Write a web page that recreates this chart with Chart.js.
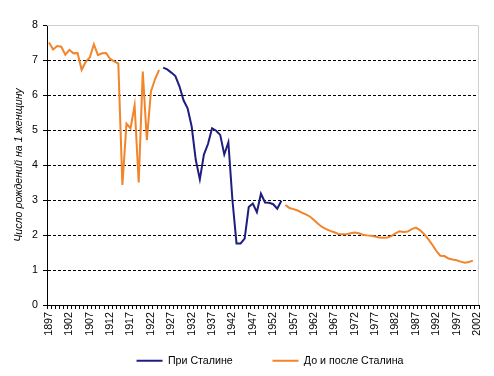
<!DOCTYPE html>
<html>
<head>
<meta charset="utf-8">
<script src="https://cdn.jsdelivr.net/npm/chart.js@4"></script>
<style>
  body { margin: 0; background: #fff; }
  canvas { display: block; }
</style>
</head>
<body>
<canvas id="tfr" width="494" height="376"></canvas>
<script>
// годы по оси X
const firstYear = 1897;
const lastYear = 2002;
const years = Array.from({length: lastYear - firstYear + 1}, (_, i) => firstYear + i);

// до Сталина, 1897 - 1924
const beforeYears = [1897, 1924];
const beforeValues = [7.5, 7.3, 7.4, 7.38, 7.15, 7.29, 7.19, 7.2, 6.72, 6.95, 7.07, 7.45, 7.14, 7.19, 7.2, 7.03, 6.96, 6.9,
    3.43, 5.18, 5.05, 5.7, 3.5, 6.67, 4.71, 6.1, 6.45, 6.72];

// при Сталине, 1925 - 1954
const stalinYears = [1925, 1954];
const stalinValues = [6.78, 6.73, 6.64, 6.54, 6.25, 5.85, 5.62, 5.1, 4.15, 3.59, 4.3, 4.6, 5.05, 4.98, 4.86, 4.3, 4.65,
    3.0, 1.76, 1.76, 1.9, 2.8, 2.9, 2.65, 3.18, 2.93, 2.92, 2.88, 2.75, 2.98];

// после Сталина, 1955 - 2001
const afterYears = [1955, 2001];
const afterValues = [2.86, 2.77, 2.74, 2.70, 2.64, 2.59, 2.53, 2.43, 2.32, 2.23, 2.17, 2.12, 2.08, 2.03, 2.02, 2.02,
    2.05, 2.07, 2.05, 2.01, 1.99, 1.98, 1.96, 1.93, 1.92, 1.93, 1.97, 2.05, 2.11, 2.09, 2.1, 2.17, 2.21, 2.14, 2.03,
    1.89, 1.73, 1.55, 1.41, 1.40, 1.33, 1.30, 1.28, 1.24, 1.21, 1.23, 1.27];

const yTicks = [0, 1, 2, 3, 4, 5, 6, 7, 8];

function pick(range, values, y) {
    return (y >= range[0] && y <= range[1]) ? values[y - range[0]] : null;
}

const stalinData = years.map(y => pick(stalinYears, stalinValues, y));
const otherData = years.map(y => {
    const a = pick(beforeYears, beforeValues, y);
    return a !== null ? a : pick(afterYears, afterValues, y);
});

const FONT = { family: "'Liberation Sans', Arial, sans-serif", size: 10.67 };

// серая рамка сверху и справа, сдвиг легенды вправо
const plotFrame = {
    id: 'plotFrame',
    afterLayout(chart) {
        chart.legend.left += 7;
        chart.legend.right += 7;
    },
    beforeDatasetsDraw(chart) {
        const { ctx, chartArea: a } = chart;
        ctx.save();
        ctx.strokeStyle = '#d0d0d0';
        ctx.lineWidth = 1;
        ctx.beginPath();
        ctx.moveTo(a.left, a.top + 0.5);
        ctx.lineTo(a.right - 0.5, a.top + 0.5);
        ctx.lineTo(a.right - 0.5, a.bottom);
        ctx.stroke();
        ctx.restore();
    }
};

const ctx = document.getElementById('tfr').getContext('2d');
const chart = new Chart(ctx, {
    type: 'line',
    data: {
        labels: years,
        datasets: [{
            label: 'При Сталине',
            data: stalinData,
            borderColor: '#1e1e82',
            backgroundColor: '#1e1e82',
            borderWidth: 2,
            pointRadius: 0,
            tension: 0,
            fill: false
        }, {
            label: 'До и после Сталина',
            data: otherData,
            borderColor: '#f2842a',
            backgroundColor: '#f2842a',
            borderWidth: 2,
            pointRadius: 0,
            tension: 0,
            fill: false
        }]
    },
    options: {
        responsive: false,
        animation: false,
        spanGaps: false,
        layout: { padding: { top: 25, right: 15, left: 0, bottom: 0 } },
        plugins: {
            tooltip: { enabled: false },
            legend: {
                position: 'bottom',
                fullSize: false,
                labels: {
                    usePointStyle: true,
                    pointStyle: 'line',
                    pointStyleWidth: 26,
                    padding: 19,
                    color: '#000',
                    font: FONT,
                    // extra room after the first entry
                    generateLabels: c => Chart.defaults.plugins.legend.labels.generateLabels(c).map((item, i) => {
                        if (i === 0) item.text = item.text + '       ';
                        return item;
                    })
                }
            }
        },
        scales: {
            x: {
                offset: true,
                grid: {
                    drawOnChartArea: false,
                    offset: true,
                    tickLength: 4,
                    color: '#000',
                    tickColor: '#000'
                },
                border: { color: '#000', width: 1 },
                ticks: {
                    autoSkip: false,
                    minRotation: 90,
                    maxRotation: 90,
                    padding: 3,
                    color: '#000',
                    font: FONT,
                    callback: (val, i) => ((years[i] - firstYear) % 5 === 0 ? String(years[i]) : '')
                },
                afterFit: s => { s.height = 31.3; }
            },
            y: {
                min: yTicks[0],
                max: yTicks[yTicks.length - 1],
                afterBuildTicks: s => { s.ticks = yTicks.map(v => ({ value: v })); },
                grid: {
                    tickLength: 4,
                    color: c => (c.tick && (c.tick.value === 0 || c.tick.value === 8)) ? 'rgba(0,0,0,0)' : '#000',
                    tickColor: '#000'
                },
                border: { color: '#000', width: 1, dash: [3, 2] },
                ticks: { padding: 5, color: '#000', font: FONT },
                title: {
                    display: true,
                    text: 'Число рождений на 1 женщину',
                    color: '#000',
                    font: Object.assign({}, FONT, { style: 'italic' }),
                    padding: { top: 13, bottom: 0 }
                },
                afterFit: s => { s.width = 47; }
            }
        }
    },
    plugins: [plotFrame]
});
</script>
</body>
</html>
